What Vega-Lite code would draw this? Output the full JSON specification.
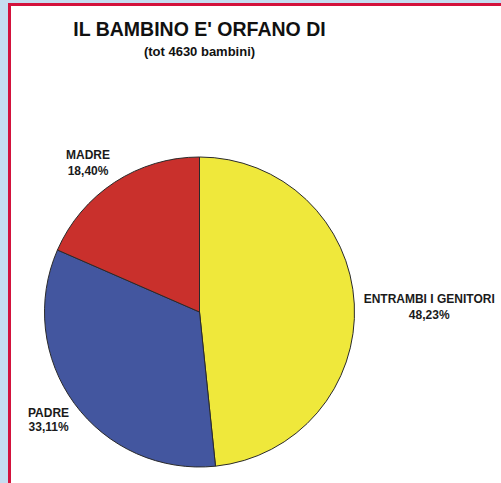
{
  "$schema": "https://vega.github.io/schema/vega-lite/v6.json",
  "autosize": {"type": "none"},
  "padding": {"left": -102, "top": -107, "right": 0, "bottom": -248},
  "width": 603,
  "height": 838,
  "background": "#ffffff",
  "config": {"legend": {"strokeWidth": 3}},
  "title": {
    "text": "IL BAMBINO E' ORFANO DI",
    "subtitle": "(tot 4630 bambini)",
    "anchor": "middle",
    "offset": -166.5,
    "font": "Liberation Sans",
    "fontSize": 19.5,
    "fontWeight": "bold",
    "color": "#111111",
    "subtitleFont": "Liberation Sans",
    "subtitleFontSize": 13,
    "subtitleFontWeight": "bold",
    "subtitleColor": "#111111",
    "subtitlePadding": 5
  },
  "view": {
    "fill": null,
    "stroke": "#c6ddf0",
    "strokeWidth": 220,
    "strokeDash": [603, 1441, 838, 0]
  },
  "data": {
    "values": [
      {"categoria": "ENTRAMBI I GENITORI", "valore": 48.23, "ordine": 1},
      {"categoria": "PADRE", "valore": 33.11, "ordine": 2},
      {"categoria": "MADRE", "valore": 18.40, "ordine": 3}
    ]
  },
  "transform": [
    {
      "calculate": "datum.categoria + '\\n' + replace(format(datum.valore, '.2f'), '.', ',') + '%'",
      "as": "etichetta"
    }
  ],
  "layer": [
    {
      "mark": {"type": "arc", "outerRadius": 155, "stroke": "#2a2a2a", "strokeWidth": 1},
      "encoding": {
        "theta": {"field": "valore", "type": "quantitative", "stack": true},
        "order": {"field": "ordine", "type": "quantitative"},
        "color": {
          "field": "categoria",
          "type": "nominal",
          "scale": {
            "domain": ["ENTRAMBI I GENITORI", "PADRE", "MADRE"],
            "range": ["#efe83b", "#43569f", "#c9302c"]
          },
          "legend": {
            "orient": "none",
            "legendX": 111.5,
            "legendY": 111.5,
            "padding": 270,
            "cornerRadius": 0,
            "strokeColor": "#d3123c",
            "title": null,
            "symbolOpacity": 0,
            "labelOpacity": 0
          }
        }
      }
    },
    {
      "mark": {
        "type": "text",
        "radius": 230,
        "dy": -1,
        "lineBreak": "\n",
        "lineHeight": 15.5,
        "font": "Liberation Sans",
        "fontSize": 12,
        "fontWeight": "bold",
        "color": "#1a1a1a"
      },
      "encoding": {
        "theta": {"field": "valore", "type": "quantitative", "stack": true},
        "order": {"field": "ordine", "type": "quantitative"},
        "detail": {"field": "categoria"},
        "text": {
          "condition": {"test": "datum.categoria == 'ENTRAMBI I GENITORI'", "field": "etichetta"},
          "value": ""
        }
      }
    },
    {
      "mark": {
        "type": "text",
        "radius": 188,
        "dx": -8.5,
        "dy": 0.5,
        "lineBreak": "\n",
        "lineHeight": 15.5,
        "font": "Liberation Sans",
        "fontSize": 12,
        "fontWeight": "bold",
        "color": "#1a1a1a"
      },
      "encoding": {
        "theta": {"field": "valore", "type": "quantitative", "stack": true},
        "order": {"field": "ordine", "type": "quantitative"},
        "detail": {"field": "categoria"},
        "text": {
          "condition": {"test": "datum.categoria == 'MADRE'", "field": "etichetta"},
          "value": ""
        }
      }
    },
    {
      "mark": {
        "type": "text",
        "radius": 184.5,
        "dx": -2,
        "dy": -7.5,
        "lineBreak": "\n",
        "lineHeight": 13.5,
        "font": "Liberation Sans",
        "fontSize": 12,
        "fontWeight": "bold",
        "color": "#1a1a1a"
      },
      "encoding": {
        "theta": {"field": "valore", "type": "quantitative", "stack": true},
        "order": {"field": "ordine", "type": "quantitative"},
        "detail": {"field": "categoria"},
        "text": {
          "condition": {"test": "datum.categoria == 'PADRE'", "field": "etichetta"},
          "value": ""
        }
      }
    }
  ]
}
